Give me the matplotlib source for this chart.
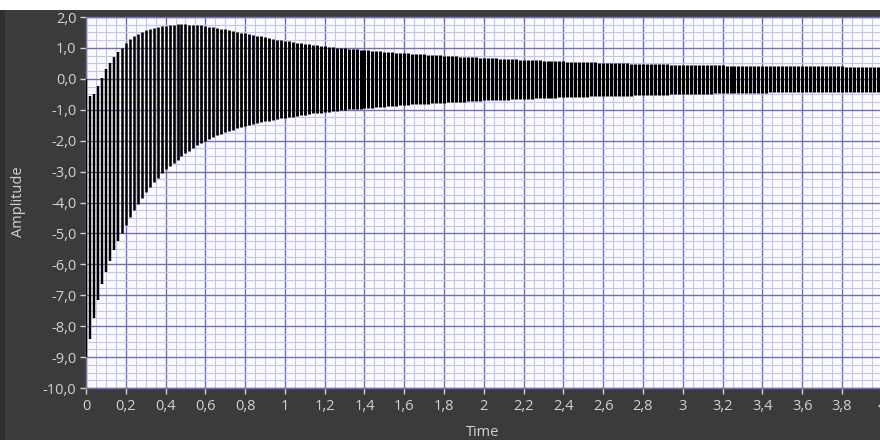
import numpy as np
import matplotlib
matplotlib.use("Agg")
import matplotlib.pyplot as plt
from matplotlib.patches import Rectangle
from matplotlib.ticker import MultipleLocator

plt.rcParams['font.family'] = ['Open Sans', 'DejaVu Sans']

# sampling of the trace (one stroke every 0.02 s)
time_step = 0.02
# upper / lower edge of the oscillation, t = 0 .. 4 s
upper = [
    0.00, -0.55, -0.50, -0.22, 0.02, 0.32, 0.52, 0.70, 0.86, 0.99,
    1.15, 1.28, 1.38, 1.46, 1.52, 1.57, 1.61, 1.64, 1.67, 1.70,
    1.72, 1.74, 1.75, 1.76, 1.76, 1.76, 1.75, 1.75, 1.74, 1.73,
    1.71, 1.69, 1.67, 1.65, 1.62, 1.60, 1.57, 1.55, 1.52, 1.49,
    1.47, 1.44, 1.42, 1.39, 1.37, 1.34, 1.32, 1.30, 1.27, 1.25,
    1.23, 1.21, 1.19, 1.17, 1.15, 1.14, 1.12, 1.10, 1.09, 1.07,
    1.06, 1.04, 1.03, 1.01, 1.00, 0.99, 0.97, 0.96, 0.95, 0.94,
    0.93, 0.92, 0.91, 0.90, 0.89, 0.88, 0.87, 0.86, 0.85, 0.84,
    0.83, 0.82, 0.81, 0.80, 0.79, 0.79, 0.78, 0.77, 0.76, 0.76,
    0.75, 0.74, 0.74, 0.73, 0.72, 0.72, 0.71, 0.70, 0.70, 0.69,
    0.68, 0.67, 0.67, 0.66, 0.65, 0.65, 0.64, 0.63, 0.63, 0.62,
    0.62, 0.61, 0.61, 0.60, 0.60, 0.59, 0.59, 0.58, 0.58, 0.57,
    0.57, 0.56, 0.56, 0.55, 0.55, 0.54, 0.54, 0.53, 0.53, 0.52,
    0.52, 0.52, 0.51, 0.51, 0.50, 0.50, 0.50, 0.49, 0.49, 0.49,
    0.49, 0.48, 0.48, 0.48, 0.47, 0.47, 0.47, 0.46, 0.46, 0.46,
    0.46, 0.45, 0.45, 0.45, 0.45, 0.44, 0.44, 0.44, 0.44, 0.44,
    0.44, 0.43, 0.43, 0.43, 0.43, 0.42, 0.42, 0.42, 0.42, 0.42,
    0.42, 0.42, 0.41, 0.41, 0.41, 0.41, 0.41, 0.41, 0.41, 0.41,
    0.41, 0.40, 0.40, 0.40, 0.40, 0.40, 0.40, 0.40, 0.40, 0.40,
    0.40, 0.39, 0.39, 0.39, 0.39, 0.39, 0.39, 0.39, 0.39, 0.39,
    0.39,
]
lower = [
    -9.00, -8.40, -7.75, -7.15, -6.65, -6.25, -5.90, -5.55, -5.25, -4.98,
    -4.72, -4.48, -4.25, -4.04, -3.85, -3.67, -3.50, -3.35, -3.20, -3.06,
    -2.93, -2.82, -2.71, -2.61, -2.51, -2.41, -2.32, -2.23, -2.15, -2.08,
    -2.01, -1.95, -1.89, -1.83, -1.78, -1.73, -1.68, -1.64, -1.60, -1.56,
    -1.52, -1.49, -1.46, -1.43, -1.40, -1.37, -1.35, -1.32, -1.30, -1.28,
    -1.26, -1.24, -1.22, -1.20, -1.18, -1.16, -1.14, -1.12, -1.11, -1.09,
    -1.08, -1.06, -1.05, -1.03, -1.02, -1.01, -0.99, -0.98, -0.97, -0.96,
    -0.95, -0.94, -0.93, -0.92, -0.91, -0.90, -0.89, -0.88, -0.87, -0.86,
    -0.85, -0.84, -0.83, -0.82, -0.82, -0.81, -0.80, -0.79, -0.79, -0.78,
    -0.77, -0.76, -0.76, -0.75, -0.74, -0.74, -0.73, -0.72, -0.72, -0.71,
    -0.70, -0.70, -0.69, -0.69, -0.68, -0.67, -0.67, -0.66, -0.66, -0.65,
    -0.65, -0.64, -0.64, -0.63, -0.63, -0.62, -0.62, -0.61, -0.61, -0.60,
    -0.60, -0.60, -0.59, -0.59, -0.58, -0.58, -0.58, -0.57, -0.57, -0.56,
    -0.56, -0.56, -0.55, -0.55, -0.55, -0.54, -0.54, -0.54, -0.53, -0.53,
    -0.53, -0.52, -0.52, -0.52, -0.51, -0.51, -0.51, -0.50, -0.50, -0.50,
    -0.50, -0.49, -0.49, -0.49, -0.48, -0.48, -0.48, -0.48, -0.47, -0.47,
    -0.47, -0.47, -0.46, -0.46, -0.46, -0.46, -0.45, -0.45, -0.45, -0.45,
    -0.45, -0.45, -0.44, -0.44, -0.44, -0.44, -0.44, -0.44, -0.43, -0.43,
    -0.43, -0.43, -0.43, -0.43, -0.43, -0.43, -0.42, -0.42, -0.42, -0.42,
    -0.42, -0.42, -0.42, -0.42, -0.42, -0.42, -0.42, -0.41, -0.41, -0.41,
    -0.41,
]

x_ticks = [0, 0.2, 0.4, 0.6, 0.8, 1, 1.2, 1.4, 1.6, 1.8, 2, 2.2, 2.4, 2.6, 2.8,
           3, 3.2, 3.4, 3.6, 3.8, 4]
x_tick_labels = ["0", "0,2", "0,4", "0,6", "0,8", "1", "1,2", "1,4", "1,6", "1,8",
                 "2", "2,2", "2,4", "2,6", "2,8", "3", "3,2", "3,4", "3,6", "3,8", "4"]
y_ticks = [2, 1, 0, -1, -2, -3, -4, -5, -6, -7, -8, -9, -10]
y_tick_labels = ["2,0", "1,0", "0,0", "-1,0", "-2,0", "-3,0", "-4,0", "-5,0",
                 "-6,0", "-7,0", "-8,0", "-9,0", "-10,0"]

time = np.arange(len(upper)) * time_step

W, H = 880, 440
bg = '#3b3b3b'
txt = '#d2d2d2'

fig = plt.figure(figsize=(W / 100, H / 100), dpi=100, facecolor=bg)
# white strip along the top, darker edge on the left of the screenshot
fig.add_artist(Rectangle((0, 1 - 10 / H), 1, 10 / H, transform=fig.transFigure,
                         facecolor='white', edgecolor='none', zorder=0))
fig.add_artist(Rectangle((0, 0), 5 / W, 1 - 10 / H, transform=fig.transFigure,
                         facecolor='#2e2e2e', edgecolor='none', zorder=0))

ax = fig.add_axes([86 / W, 52 / H, 795.7 / W, 371 / H])
ax.set_facecolor('#fbfbff')
ax.set_xlim(0, 4)
ax.set_ylim(-10, 2)

ax.set_xticks(x_ticks)
ax.set_xticklabels(x_tick_labels)
ax.set_yticks(y_ticks)
ax.set_yticklabels(y_tick_labels)
ax.xaxis.set_minor_locator(MultipleLocator(0.05))
ax.yaxis.set_minor_locator(MultipleLocator(0.25))

ax.set_axisbelow(True)
ax.grid(which='minor', color='#c4c4ee', linewidth=0.8)
ax.grid(which='major', color='#7070b8', linewidth=1.0)
ax.tick_params(which='minor', length=0)
ax.tick_params(which='major', colors=txt, length=4, width=1, labelsize=10.5)
ax.tick_params(axis='x', pad=4)
ax.tick_params(axis='y', pad=3)
for s in ax.spines.values():
    s.set_color('#7070b8')
    s.set_linewidth(1.0)

# the oscillating response, one vertical stroke per sample
widths = np.clip(1.75 + 0.3 * time, 1.75, 2.25)
ax.vlines(time, lower, upper, colors='black', linewidths=widths, zorder=3)

fig.text(18 / W, 1 - 202 / H, 'Amplitude', rotation=90, ha='center', va='center',
         color=txt, fontsize=10.5)
fig.text(483 / W, 1 - 432 / H, 'Time', ha='center', va='center', color=txt,
         fontsize=10.5)

fig.savefig('out.png', dpi=100, facecolor=bg)
